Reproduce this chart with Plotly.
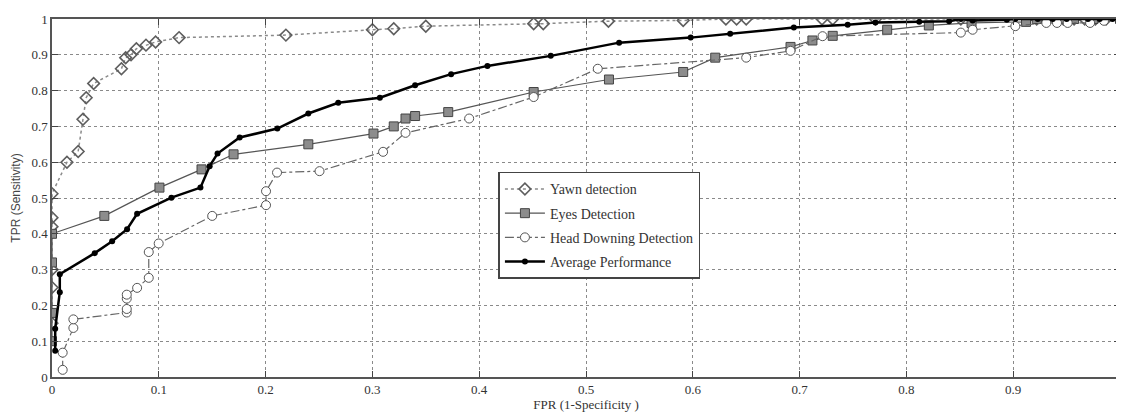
import plotly.graph_objects as go

# ---- data ----
yawn_fpr = [0, 0, 0, 0, 0, 0, 0.014, 0.0245, 0.029, 0.032, 0.039, 0.065, 0.069, 0.074, 0.079, 0.088, 0.097,
            0.119, 0.219, 0.300, 0.320, 0.350, 0.451, 0.460, 0.521, 0.591, 0.631, 0.641, 0.650, 0.721, 0.731,
            0.771, 0.851, 0.861, 0.922, 0.931, 0.947, 0.957, 0.967, 0.977, 0.987, 1.0]
yawn_tpr = [0.15, 0.25, 0.30, 0.42, 0.445, 0.512, 0.60, 0.63, 0.72, 0.78, 0.82, 0.861, 0.892, 0.90, 0.917, 0.927, 0.936,
            0.948, 0.955, 0.970, 0.973, 0.980, 0.987, 0.987, 0.994, 0.996, 1.0, 1.0, 1.0, 1.0, 1.0,
            1.0, 1.0, 1.0, 1.0, 1.0, 1.0, 1.0, 1.0, 1.0, 1.0, 1.0]

eyes_fpr = [0, 0, 0, 0, 0.049, 0.1006, 0.140, 0.170, 0.240, 0.301, 0.320, 0.331, 0.340, 0.371, 0.451, 0.5215,
            0.591, 0.621, 0.6915, 0.712, 0.731, 0.782, 0.821, 0.861, 0.912, 0.922, 0.931, 0.947, 0.957, 0.975, 1.0]
eyes_tpr = [0.10, 0.179, 0.32, 0.40, 0.45, 0.529, 0.58, 0.622, 0.65, 0.68, 0.70, 0.722, 0.729, 0.740, 0.796, 0.831,
            0.852, 0.892, 0.922, 0.94, 0.953, 0.97, 0.982, 0.989, 0.992, 1.0, 1.0, 1.0, 1.0, 1.0, 1.0]

head_fpr = [0.010, 0.010, 0.020, 0.020, 0.070, 0.070, 0.070, 0.070, 0.0797, 0.0906, 0.0906, 0.0999, 0.150, 0.2004,
            0.2004, 0.2107, 0.2505, 0.310, 0.331, 0.3906, 0.451, 0.511, 0.650, 0.6915, 0.7215, 0.851, 0.862, 0.902,
            0.931, 0.941, 0.951, 0.972, 0.985, 1.0]
head_tpr = [0.02, 0.068, 0.137, 0.161, 0.18, 0.19, 0.219, 0.23, 0.249, 0.277, 0.349, 0.373, 0.45, 0.48,
            0.519, 0.571, 0.575, 0.629, 0.682, 0.722, 0.782, 0.861, 0.892, 0.911, 0.952, 0.962, 0.970, 0.98,
            0.989, 0.989, 0.989, 0.989, 0.995, 1.0]

avg_fpr = [0.003, 0.003, 0.0073, 0.0073, 0.040, 0.0563, 0.0703, 0.0797, 0.1118, 0.139, 0.1476, 0.155, 0.1757, 0.211,
           0.240, 0.268, 0.307, 0.340, 0.3737, 0.4077, 0.467, 0.531, 0.598, 0.635, 0.6946, 0.745, 0.771, 0.812,
           0.840, 0.851, 0.862, 0.894, 0.902, 0.923, 0.937, 0.950, 0.970, 0.981, 0.993, 1.0]
avg_tpr = [0.073, 0.135, 0.237, 0.287, 0.346, 0.379, 0.413, 0.456, 0.501, 0.529, 0.589, 0.624, 0.669, 0.694,
           0.736, 0.766, 0.780, 0.815, 0.846, 0.869, 0.897, 0.934, 0.948, 0.959, 0.976, 0.984, 0.99, 0.992,
           0.994, 1.0, 0.996, 0.998, 1.0, 1.0, 1.0, 1.0, 1.0, 1.0, 1.0, 1.0]

x_ticks = [0, 0.1, 0.2, 0.3, 0.4, 0.5, 0.6, 0.7, 0.8, 0.9, 1]
x_tick_labels = ["0", "0.1", "0.2", "0.3", "0.4", "0.5", "0.6", "0.7", "0.8", "0.9", "1"]
y_ticks = [0, 0.1, 0.2, 0.3, 0.4, 0.5, 0.6, 0.7, 0.8, 0.9, 1]
y_tick_labels = ["0", "0.1", "0.2", "0.3", "0.4", "0.5", "0.6", "0.7", "0.8", "0.9", "1"]

serif = "Times New Roman, Liberation Serif, serif"

fig = go.Figure()
fig.add_trace(go.Scatter(
    x=yawn_fpr, y=yawn_tpr, name="Yawn detection", mode="lines+markers", legendgroup="g1",
    line=dict(color="#8a8a8a", width=1.5, dash="dot"),
    marker=dict(symbol="diamond-open", size=9, color="#5e5e5e", line=dict(width=1.6, color="#5e5e5e"))))
fig.add_trace(go.Scatter(
    x=eyes_fpr, y=eyes_tpr, name="Eyes Detection", mode="lines+markers", legendgroup="g2",
    line=dict(color="#555555", width=1.2),
    marker=dict(symbol="square", size=9, color="#8c8c8c", line=dict(width=1, color="#444444"))))
fig.add_trace(go.Scatter(
    x=head_fpr, y=head_tpr, name="Head Downing Detection", mode="lines+markers", legendgroup="g3",
    line=dict(color="#666666", width=1.2, dash="dashdot"),
    marker=dict(symbol="circle", size=9, color="white", line=dict(width=1, color="#555555"))))
fig.add_trace(go.Scatter(
    x=avg_fpr, y=avg_tpr, name="Average Performance", mode="lines+markers", legendgroup="g4",
    line=dict(color="black", width=2.5),
    marker=dict(symbol="circle", size=6, color="black")))

axis_common = dict(
    showline=True, linecolor="#555555", linewidth=1.5, mirror="ticks",
    ticks="inside", ticklen=6, tickcolor="#444444",
    showgrid=True, gridcolor="#8a8a8a", griddash="dot", gridwidth=1,
    zeroline=False, automargin=False,
    tickfont=dict(family=serif, size=13, color="#333333"),
)

# page body has an 8px margin, so the figure is sized to fit the 1124x415 window
fig.update_layout(
    width=1116, height=407,
    margin=dict(l=44, r=4, t=11, b=38),
    paper_bgcolor="white", plot_bgcolor="white",
    xaxis=dict(range=[0, 1], tickvals=x_ticks, ticktext=x_tick_labels,
               title=dict(text="FPR (1-Specificity )", font=dict(family=serif, size=13, color="#333333"), standoff=4),
               **axis_common),
    yaxis=dict(range=[0, 1], tickvals=y_ticks, ticktext=y_tick_labels,
               title=dict(text="TPR (Sensitivity)", font=dict(family="Liberation Sans, Arial, sans-serif", size=12, color="#444444"), standoff=8),
               **axis_common),
    legend=dict(x=0.418, y=0.573, xanchor="left", yanchor="top",
                bgcolor="white", bordercolor="#444444", borderwidth=1.5,
                font=dict(family=serif, size=14, color="#333333"),
                itemwidth=40, tracegroupgap=3),
    showlegend=True,
)

fig.write_html("out.html")
